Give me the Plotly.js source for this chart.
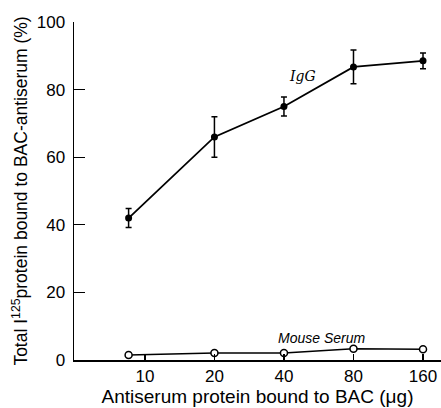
<!DOCTYPE html>
<html>
<head>
<meta charset="utf-8">
<script src="https://cdn.plot.ly/plotly-3.0.1.min.js"></script>
<style>html,body{margin:0;padding:0;background:#fff}#chart{width:441px;height:408px}</style>
</head>
<body>
<div id="chart"></div>
<script>
// Data
const doseTicks = [10, 20, 40, 80, 160];
const doseX = [8.5, 20, 40, 80, 160];
const iggValues = [42, 66, 75, 86.7, 88.5];
const iggErrors = [2.8, 6, 2.8, 5, 2.3];
const mouseValues = [1.5, 2.1, 2.1, 3.3, 3.2];
const yTicks = [0, 20, 40, 60, 80, 100];

const fam = 'Liberation Sans, Arial, sans-serif';

const traces = [
  {
    x: doseX, y: iggValues, type: 'scatter', mode: 'lines+markers',
    line: {color: '#000', width: 1.8},
    marker: {color: '#000', size: 7, symbol: 'circle'},
    error_y: {type: 'data', array: iggErrors, visible: true, color: '#000', thickness: 1.5, width: 3},
    showlegend: false, cliponaxis: false
  },
  {
    x: doseX, y: mouseValues, type: 'scatter', mode: 'lines+markers',
    line: {color: '#000', width: 1.5},
    marker: {color: '#fff', size: 7, symbol: 'circle', line: {color: '#000', width: 1.5}},
    showlegend: false, cliponaxis: false
  }
];

const layout = {
  width: 441, height: 408,
  margin: {l: 74, r: 0, t: 22, b: 48},
  paper_bgcolor: '#fff', plot_bgcolor: '#fff',
  font: {family: fam, size: 15, color: '#000'},
  xaxis: {
    type: 'log', range: [0.693, 2.282],
    tickvals: doseTicks, ticktext: doseTicks.map(String),
    ticks: 'inside', ticklen: 6, tickwidth: 1.2, tickcolor: '#000',
    showline: true, linecolor: '#000', linewidth: 1.5,
    showgrid: false, zeroline: false,
    tickfont: {family: fam, size: 17, color: '#000'},
    title: {text: 'Antiserum protein bound to BAC (μg)', font: {family: fam, size: 19, color: '#000'}, standoff: 0}
  },
  yaxis: {
    range: [0, 100],
    tickvals: yTicks,
    ticks: 'inside', ticklen: 11, tickwidth: 1.2, tickcolor: '#000',
    showline: true, linecolor: '#000', linewidth: 1.5,
    showgrid: false, zeroline: false,
    ticklabelstandoff: 4,
    tickfont: {family: fam, size: 17, color: '#000'},
    title: {text: 'Total I<sup>125</sup>protein bound to BAC-antiserum (%)', font: {family: fam, size: 17.5, color: '#000'}, standoff: 4}
  },
  annotations: [
    {x: Math.log10(48), y: 84, xref: 'x', yref: 'y', text: '<i>IgG</i>', showarrow: false,
     font: {family: 'DejaVu Serif, serif', size: 14, color: '#000'}},
    {x: Math.log10(58), y: 6.5, xref: 'x', yref: 'y', text: '<i>Mouse Serum</i>', showarrow: false,
     font: {family: fam, size: 14, color: '#000'}}
  ]
};

Plotly.newPlot('chart', traces, layout, {displayModeBar: false, staticPlot: true});
</script>
</body>
</html>
